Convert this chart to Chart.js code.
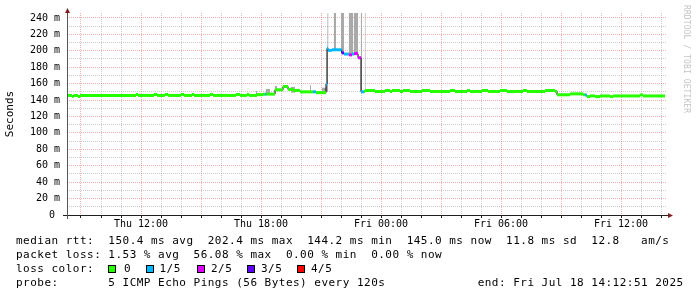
<!DOCTYPE html>
<html><head><meta charset="utf-8">
<script src="https://cdn.jsdelivr.net/npm/chart.js@4.4.0/dist/chart.umd.min.js"></script>
<style>
html,body{margin:0;padding:0;background:#fff;}
#wrap{position:relative;width:697px;height:297px;overflow:hidden;background:#fff;}
canvas{position:absolute;left:0;top:0;}
.leg{position:absolute;left:16px;font-family:'DejaVu Sans Mono',monospace;font-size:11px;letter-spacing:0.48px;line-height:14px;white-space:pre;color:#000;}
.box{position:absolute;top:265px;width:6px;height:6px;border:1px solid #000;}
#wm{position:absolute;left:682px;top:5px;writing-mode:vertical-rl;font-family:'DejaVu Sans Mono',monospace;font-size:8px;line-height:9px;color:#c4c4c4;letter-spacing:0.1px;white-space:nowrap;}
</style></head><body>
<div id="wrap">
<canvas id="chart" width="697" height="297"></canvas>
<div class="leg" id="row1" style="top:234px"></div>
<div class="leg" id="row2" style="top:248px"></div>
<div class="leg" id="row3" style="top:262px">loss color:</div>
<div class="leg" id="row4" style="top:276px"></div>
<div id="wm">RRDTOOL / TOBI OETIKER</div>
</div>
<script>
// ---- data (hours since Thu 00:00, values in ms) ----
const medianTimes = [8.30,8.55,8.625,8.85,8.95,11.75,11.85,12.65,12.80,13.20,13.35,14.00,14.15,14.55,14.65,15.45,15.60,16.75,16.95,17.30,17.40,17.80,18.10,18.20,18.275,18.70,19.10,19.35,19.60,19.95,20.60,20.75,21.25,21.30,21.35,21.55,22.035,22.15,22.40,22.55,22.65,22.85,23.00,23.15,23.20,23.70,24.20,24.45,24.55,24.95,25.10,25.45,26.05,26.45,27.45,27.70,28.30,28.45,29.05,29.35,29.95,30.30,31.10,31.30,32.20,32.70,32.80,33.45,34.10,34.20,34.30,34.45,34.70,34.95,35.45,35.60,36.95,37.10,38.20];
const medianValues = [145.6,144.4,145.6,144.4,145.6,146.8,145.6,146.8,145.6,146.8,145.6,146.8,145.6,146.8,145.6,146.8,145.6,146.8,145.6,146.8,145.6,146.6,147.2,147.2,147.2,152.5,156.5,153.0,151.7,150.0,150.0,149.0,159.5,203.0,200.5,201.2,197.4,196.0,195.0,196.0,196.5,191.5,150.0,150.4,151.6,150.4,151.6,150.4,151.6,150.4,151.6,150.4,151.6,150.4,151.6,150.4,151.6,150.4,151.6,150.4,151.6,150.4,151.6,150.4,151.6,150.4,146.4,147.5,146.4,146.0,144.2,145.0,144.2,145.0,144.2,145.0,146.2,145.0,145.0];
const medianLoss = [0,0,0,0,0,0,0,0,0,0,0,0,0,0,0,0,0,0,0,0,0,0,0,1,0,0,0,0,0,0,1,0,1,1,1,1,3,1,2,1,2,2,1,0,0,0,0,0,0,0,0,0,0,0,0,0,0,0,0,0,0,0,0,0,0,0,0,0,0,1,0,0,0,0,0,0,0,0,0];
const smokeStart = [17.75,18.25,18.70,19.50,20.45,21.05,21.25,21.325,21.635,22.00,22.385,22.635,22.985,23.185];
const smokeEnd   = [17.80,18.45,18.80,19.70,20.50,21.25,21.35,21.375,21.75,22.15,22.60,22.85,23.05,23.235];
const smokeLow   = [145,148.5,153.5,149,152,150,150,200,201,198,196,196,150,151];
const smokeHigh  = [151,153.5,157,156,158,155,161,250,250,250,250,250,250,250];
const lossLabels = ['0','1/5','2/5','3/5','4/5'];
const xTickHours = [12,18,24,30,36];
const xTickLabels = ['Thu 12:00','Thu 18:00','Fri 00:00','Fri 06:00','Fri 12:00'];
const rttStatValues = [150.4,202.4,144.2,145.0,11.8];
const rttStatNames = ['avg','max','min','now','sd'];
const ampsValue = [12.8];
const lossStatValues = [1.53,56.08,0.00,0.00];
const lossStatNames = ['avg','max','min','now'];
const probeText = ['5 ICMP Echo Pings (56 Bytes) every 120s'];
const endText = ['end: Fri Jul 18 14:12:51 2025'];

// ---- styles ----
const lossColors = ['#26ff00','#00b8ff','#dd00ff','#5e00ff','#ff0000'];
const GRID = 'rgba(143,143,143,0.45)';
const MGRID = 'rgba(222,79,79,0.45)';
const FONT = "'DejaVu Sans Mono', monospace";

// ---- build datasets ----
const medianPts = medianTimes.map((t,i)=>({x:t,y:medianValues[i]}));
const medianSegs = [], segColors = [];
for (let i=0;i<medianTimes.length-1;i++){
  const c = lossColors[medianLoss[i]];
  medianSegs.push({x:medianTimes[i],y:medianValues[i]},{x:medianTimes[i+1],y:medianValues[i]},{x:medianTimes[i+1],y:null});
  segColors.push(c,c,null);
}
const smokeHi=[], smokeLo=[];
for (let k=0;k<smokeStart.length;k++){
  smokeHi.push({x:smokeStart[k],y:smokeHigh[k]},{x:smokeEnd[k],y:smokeHigh[k]},{x:smokeEnd[k],y:null});
  smokeLo.push({x:smokeStart[k],y:smokeLow[k]},{x:smokeEnd[k],y:smokeLow[k]},{x:smokeEnd[k],y:null});
}
const xGrid=[]; for(let h=9;h<=38;h++) xGrid.push(h);
const yGrid=[]; for(let v=10;v<=240;v+=10) yGrid.push(v);

const axisPlugin = {
  id:'rrdAxes',
  afterDraw(chart){
    const {ctx, chartArea:a} = chart;
    ctx.save();
    ctx.lineWidth = 1;
    ctx.strokeStyle = '#1f1f1f';
    ctx.beginPath();
    ctx.moveTo(a.left-4, a.bottom+0.5); ctx.lineTo(a.right+2, a.bottom+0.5);
    ctx.stroke();
    ctx.strokeStyle = '#555';
    ctx.beginPath();
    ctx.moveTo(a.left+0.5, a.bottom+4); ctx.lineTo(a.left+0.5, a.top-1);
    ctx.stroke();
    ctx.fillStyle = 'rgb(128,31,31)';
    ctx.beginPath();
    ctx.moveTo(a.right+1, a.bottom-2); ctx.lineTo(a.right+6, a.bottom+0.5); ctx.lineTo(a.right+1, a.bottom+3); ctx.closePath(); ctx.fill();
    ctx.beginPath();
    ctx.moveTo(a.left-2, a.top); ctx.lineTo(a.left+0.5, a.top-5); ctx.lineTo(a.left+3, a.top); ctx.closePath(); ctx.fill();
    // y-axis "0" label (sits on the x axis line)
    ctx.fillStyle = '#000';
    ctx.font = "10px 'DejaVu Sans Mono', monospace";
    ctx.textAlign = 'right'; ctx.textBaseline = 'middle';
    ctx.fillText('0', a.left - 12, chart.scales.y.getPixelForValue(0));
    ctx.restore();
  }
};

new Chart(document.getElementById('chart'), {
  type:'line',
  data:{datasets:[
    {label:'median', data:medianSegs, borderWidth:3, borderCapStyle:'butt', pointRadius:0, spanGaps:false, fill:false, order:1,
     borderColor:lossColors[0], segment:{borderColor:c=>segColors[c.p0DataIndex]||lossColors[0]}},
    {label:'step', data:medianPts, stepped:true, borderColor:'#000', borderWidth:1, pointRadius:0, fill:false, order:2},
    {label:'smokeHi', data:smokeHi, borderWidth:0, borderColor:'rgba(0,0,0,0)', backgroundColor:'#a9a9a9', pointRadius:0, spanGaps:false, fill:'+1', order:3},
    {label:'smokeLo', data:smokeLo, borderWidth:0, borderColor:'rgba(0,0,0,0)', pointRadius:0, spanGaps:false, fill:false, order:4}
  ]},
  options:{
    responsive:false, animation:false, devicePixelRatio:1,
    layout:{padding:{left:0,right:30,top:13,bottom:0}},
    plugins:{legend:{display:false}, tooltip:{enabled:false}},
    scales:{
      x:{type:'linear', min:8.3, max:38.3,
         afterFit:s=>{s.height=82;},
         afterBuildTicks:s=>{s.ticks=xGrid.map(v=>({value:v}));},
         ticks:{autoSkip:false, maxRotation:0, padding:0, color:'#000', font:{family:FONT,size:10},
                callback:v=>{const i=xTickHours.indexOf(v); return i>=0?xTickLabels[i]:'';}},
         grid:{color:c=>(c.tick && c.tick.value%3===0)?MGRID:GRID, lineWidth:1, drawTicks:true, tickLength:3, tickColor:'#1f1f1f', tickWidth:1},
         border:{display:false, dash:[1,1]}},
      y:{type:'linear', min:0, max:246,
         afterFit:s=>{s.width=67;},
         afterBuildTicks:s=>{s.ticks=yGrid.map(v=>({value:v}));},
         ticks:{autoSkip:false, padding:7, color:'#000', font:{family:FONT,size:10},
                callback:v=> v%20===0 ? v+' m' : ''},
         grid:{color:c=>(c.tick && c.tick.value%20===0)?MGRID:GRID, lineWidth:1, drawTicks:false},
         border:{display:false, dash:[1,1]},
         title:{display:true, text:'Seconds', color:'#000', font:{family:FONT,size:11}, padding:{top:4,bottom:0}}}
    }
  },
  plugins:[axisPlugin]
});

// ---- legend text ----
document.getElementById('row1').textContent = 'median rtt:  ' + rttStatValues.map((v,i)=>v.toFixed(1)+' ms '+rttStatNames[i]).join('  ') + '  ' + ampsValue[0].toFixed(1) + '   am/s';
document.getElementById('row2').textContent = 'packet loss: ' + lossStatValues.map((v,i)=>v.toFixed(2)+' % '+lossStatNames[i]).join('  ');
document.getElementById('row4').textContent = 'probe:       ' + probeText[0] + ' '.repeat(13) + endText[0];
const boxLefts = [108,146,197,247,297];
const labelLefts = [124,159.5,211,261,311];
const wrap = document.getElementById('wrap');
lossLabels.forEach((lab,i)=>{
  const b=document.createElement('div'); b.className='box'; b.style.left=boxLefts[i]+'px'; b.style.background=lossColors[i]; wrap.appendChild(b);
  const t=document.createElement('div'); t.className='leg'; t.style.top='262px'; t.style.left=labelLefts[i]+'px'; t.textContent=lab; wrap.appendChild(t);
});
</script>
</body></html>
